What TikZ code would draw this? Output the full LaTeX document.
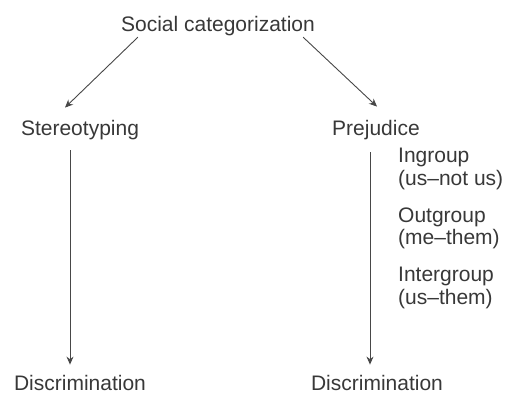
\documentclass[tikz,border=0pt]{standalone}
\usepackage{fontspec}
\setmainfont{Liberation Sans}
\usetikzlibrary{positioning,arrows.meta}

\begin{document}
\begin{tikzpicture}[x=1pt, y=-1pt,
    every node/.style={inner sep=0pt, anchor=base, text=black!78,
        font=\fontsize{21}{22.5}\selectfont},
    link/.style={draw=black!72, line width=0.9pt, -{Stealth[length=8pt, width=7pt]}}
]
    \useasboundingbox (0,0) rectangle (505,394);

    \node (social) at (218,31) {Social categorization};
    \node (stereotyping) at (80,135) {Stereotyping};
    \node (prejudice) at (376,135) {Prejudice};
    \node (discrimination left) at (80,390) {Discrimination};
    \node (discrimination right) at (377,390) {Discrimination};

    \node[anchor=north west, align=left] (ingroup) at (398,148.3) {Ingroup\\(us--not us)};
    \node[below=17.5pt of ingroup.south west, anchor=north west, align=left] (outgroup) {Outgroup\\(me--them)};
    \node[below=17.5pt of outgroup.south west, anchor=north west, align=left] (intergroup) {Intergroup\\(us--them)};

    \draw[link] ([xshift=17pt, yshift=-1.6pt]social.south west) -- ([xshift=-15pt, yshift=12pt]stereotyping.north);
    \draw[link] ([xshift=-12pt, yshift=-1.6pt]social.south east) -- ([xshift=1pt, yshift=13pt]prejudice.north);

    \draw[link] ([xshift=-10pt, yshift=-10.6pt]stereotyping.south) -- ([xshift=-10pt, yshift=10pt]discrimination left.north);
    \draw[link] ([xshift=-6pt, yshift=-12.6pt]prejudice.south) -- ([xshift=-7pt, yshift=10pt]discrimination right.north);
\end{tikzpicture}
\end{document}
